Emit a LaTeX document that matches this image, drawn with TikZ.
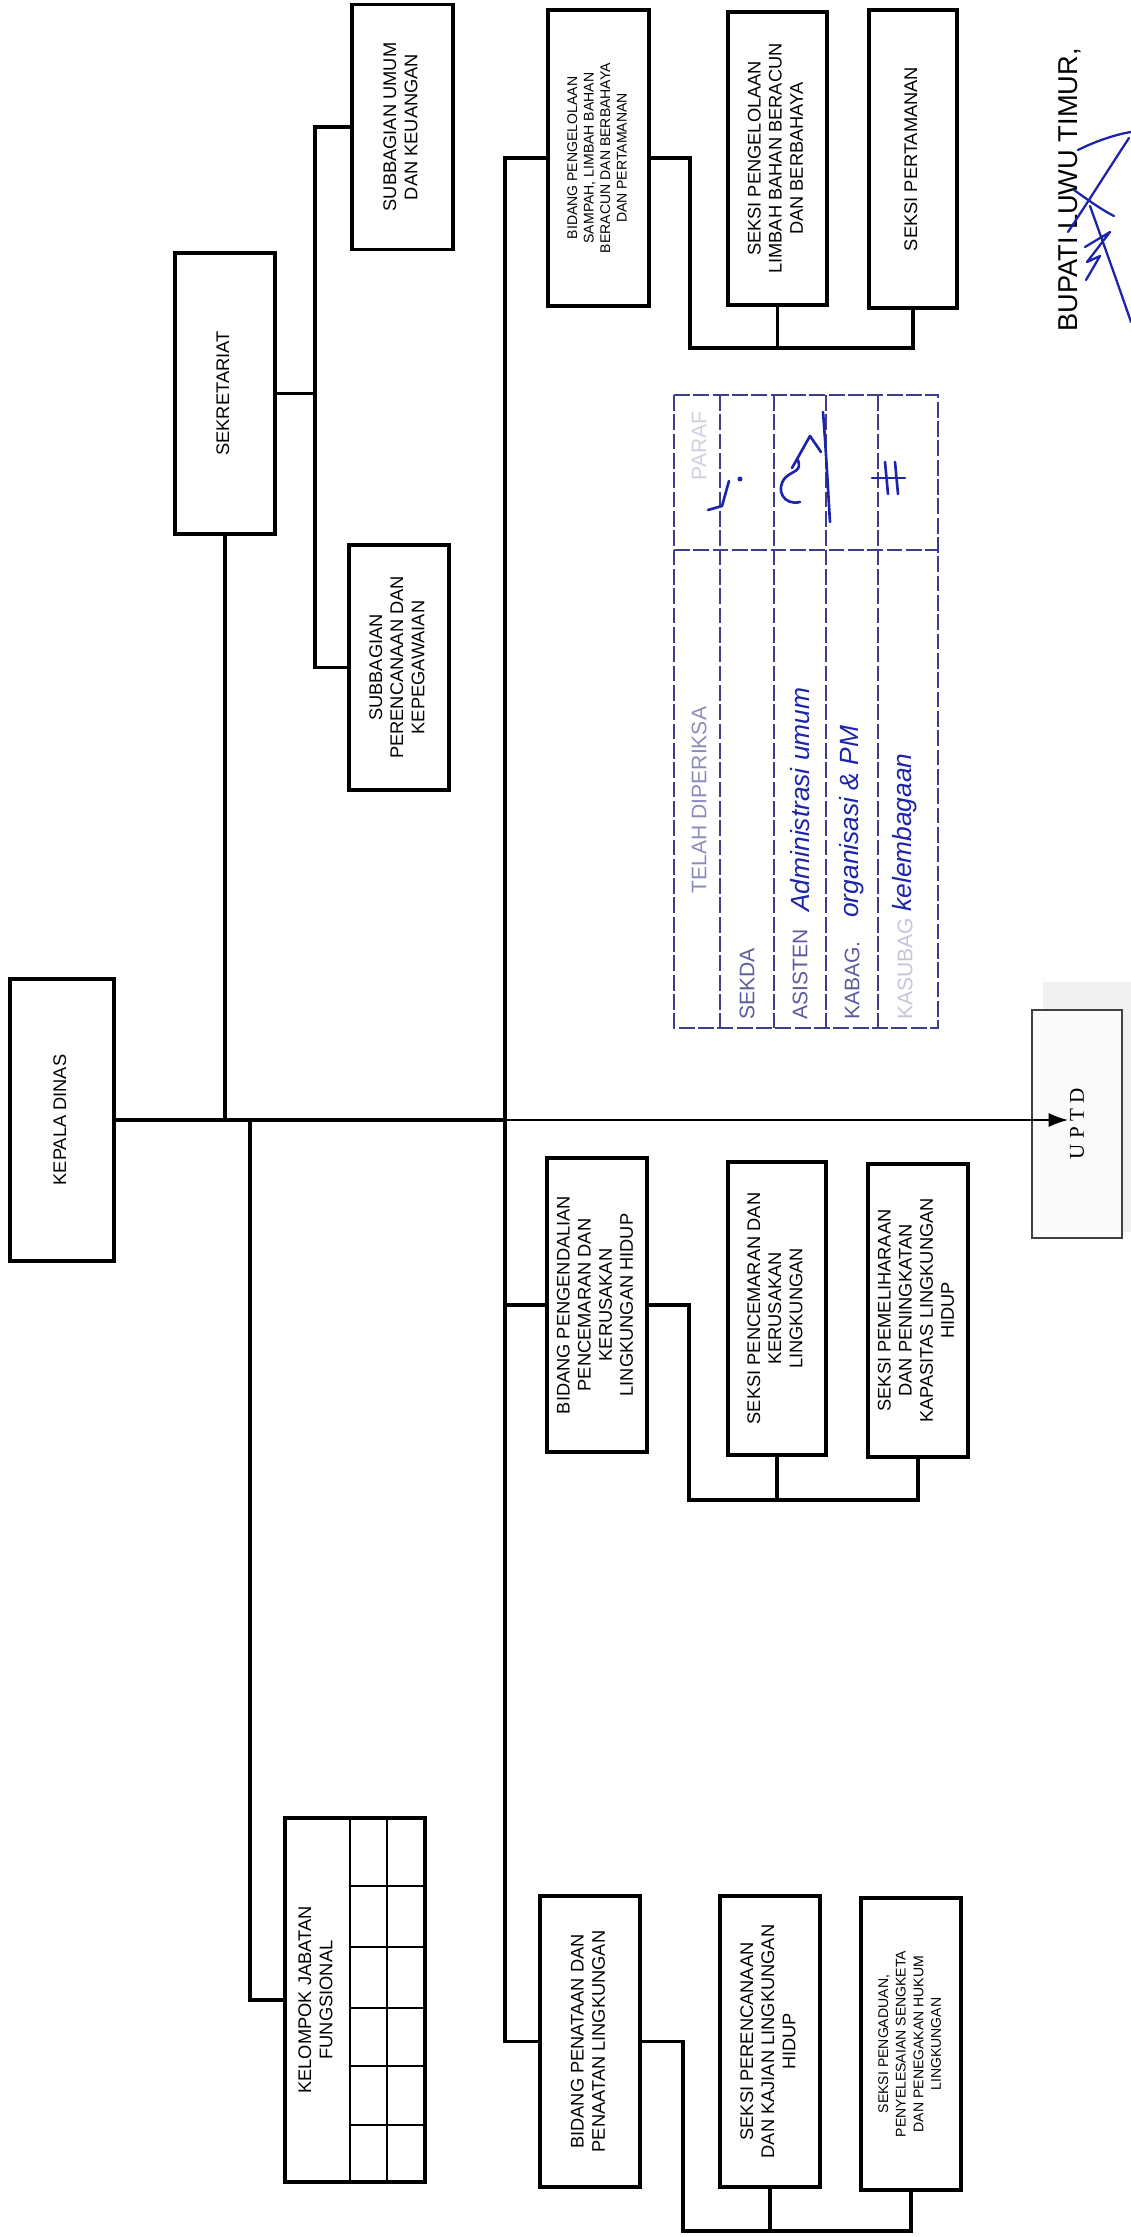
\documentclass[tikz,border=0pt]{standalone}
\usepackage{fontspec}
\setmainfont{Liberation Sans}
\newfontfamily\uptdserif{Liberation Serif}
\usetikzlibrary{arrows.meta}
\definecolor{stampblue}{RGB}{62,62,140}
\definecolor{inkblue}{RGB}{28,36,168}
\newcommand{\vlabel}[1]{\rotatebox{90}{\begin{tabular}{@{}c@{}}#1\end{tabular}}}
\tikzset{
    unit/.style={draw, line width=1.9pt, inner sep=0pt},
    link/.style={line width=1.9pt},
    txt/.style={font=\fontsize{10.4}{12}\selectfont},
    smalltxt/.style={font=\fontsize{8}{9.4}\selectfont},
    gridline/.style={line width=1.3pt},
    stamp/.style={draw=stampblue, line width=1.1pt, dash pattern=on 9pt off 2pt},
    stamplabel/.style={rotate=90, text=stampblue!85, font=\fontsize{12}{14}\selectfont, inner sep=0pt},
    hand/.style={rotate=90, text=inkblue, font=\fontsize{15}{17}\selectfont\itshape, inner sep=0pt},
    paraf/.style={draw=inkblue, line width=1.5pt, line cap=round, line join=round}
}

\begin{document}
\begin{tikzpicture}[x=0.02cm, y=-0.02cm]
    \useasboundingbox (0,0) rectangle (1131,2237);

    \node[unit, txt, minimum width=2.08cm, minimum height=5.64cm] (kepala) at (62, 1120) {\vlabel{KEPALA DINAS}};

    \node[unit, txt, minimum width=2cm, minimum height=5.62cm] (sekretariat) at (225, 393.5) {\vlabel{SEKRETARIAT}};
    \node[unit, txt, minimum width=2.02cm, minimum height=4.9cm] (subumum) at (402.5, 127) {\vlabel{SUBBAGIAN UMUM\\DAN KEUANGAN}};
    \node[unit, txt, minimum width=2cm, minimum height=4.9cm] (subperenc) at (399, 667.5) {\vlabel{SUBBAGIAN\\PERENCANAAN DAN\\KEPEGAWAIAN}};

    \node[unit, smalltxt, minimum width=2.02cm, minimum height=5.92cm] (bidsampah) at (598.5, 158) {\vlabel{BIDANG PENGELOLAAN\\SAMPAH, LIMBAH BAHAN\\BERACUN DAN BERBAHAYA\\DAN PERTAMANAN}};
    \node[unit, txt, minimum width=1.98cm, minimum height=5.86cm] (seksilimbah) at (777.5, 158.5) {\vlabel{SEKSI PENGELOLAAN\\LIMBAH BAHAN BERACUN\\DAN BERBAHAYA}};
    \node[unit, txt, minimum width=1.76cm, minimum height=5.96cm] (seksitaman) at (913, 159) {\vlabel{SEKSI PERTAMANAN}};

    \node[unit, txt, minimum width=2cm, minimum height=5.88cm] (bidcemar) at (597, 1305) {\vlabel{BIDANG PENGENDALIAN\\PENCEMARAN DAN\\KERUSAKAN\\LINGKUNGAN HIDUP}};
    \node[unit, txt, minimum width=1.96cm, minimum height=5.86cm] (seksicemar) at (777, 1308.5) {\vlabel{SEKSI PENCEMARAN DAN\\KERUSAKAN\\LINGKUNGAN}};
    \node[unit, txt, minimum width=2cm, minimum height=5.86cm] (seksipelihara) at (918, 1310.5) {\vlabel{SEKSI PEMELIHARAAN\\DAN PENINGKATAN\\KAPASITAS LINGKUNGAN\\HIDUP}};

    \node[unit, txt, minimum width=2cm, minimum height=5.82cm] (bidtata) at (590, 2041.5) {\vlabel{BIDANG PENATAAN DAN\\PENAATAN LINGKUNGAN}};
    \node[unit, txt, minimum width=2cm, minimum height=5.82cm] (seksikaji) at (770, 2041.5) {\vlabel{SEKSI PERENCANAAN\\DAN KAJIAN LINGKUNGAN\\HIDUP}};
    \node[unit, font=\fontsize{8}{10}\selectfont, minimum width=2cm, minimum height=5.84cm] (seksiadu) at (911, 2044) {\vlabel{SEKSI PENGADUAN,\\PENYELESAIAN SENGKETA\\DAN PENEGAKAN HUKUM\\LINGKUNGAN}};

    \node[unit, minimum width=2.8cm, minimum height=7.28cm] (jabfung) at (355, 2000) {};
    \node[txt] (jabfungtext) at (317.5, 2000) {\vlabel{KELOMPOK JABATAN\\FUNGSIONAL}};
    \foreach \gx in {350, 387}
        \draw[gridline] (\gx, 1818) -- (\gx, 2182);
    \foreach \gy in {1886, 1947, 2008, 2066, 2125}
        \draw[gridline] (350, \gy) -- (425, \gy);

    \fill[black!6] (1043, 982) rectangle (1131, 1232);
    \node[draw=black!75, fill=black!2, line width=1pt, minimum width=1.8cm, minimum height=4.56cm, font=\uptdserif\fontsize{12}{14}\selectfont] (uptd) at (1077, 1124) {\rotatebox{90}{U P T D}};

    \coordinate (hub) at (505, 1120);
    \coordinate (fungdrop) at (250, 1120);
    \coordinate (sekbus) at (315, 393.5);
    \coordinate (sampahbus) at (690, 348);
    \coordinate (cemarbus) at (689, 1500);
    \coordinate (tatabus) at (683, 2231);
    \coordinate (uptdtip) at (1068, 1120);

    \draw[link] (kepala.east) -- (hub);
    \draw[link] (bidsampah.west) -| (hub) |- (bidtata.west);
    \draw[link] (bidcemar.west) -- (bidcemar.west -| hub);
    \draw[link] (sekretariat.south) -- (sekretariat.south |- hub);
    \draw[link] (fungdrop) |- (jabfung.west);

    \draw[link] (sekretariat.east) -- (sekbus);
    \draw[link] (subumum.west) -| (sekbus) |- (subperenc.west);

    \draw[link] (bidsampah.east) -| (sampahbus) -| (seksitaman.south);
    \draw[link] (seksilimbah.south) -- (seksilimbah.south |- sampahbus);

    \draw[link] (bidcemar.east) -| (cemarbus) -| (seksipelihara.south);
    \draw[link] (seksicemar.south) -- (seksicemar.south |- cemarbus);

    \draw[link] (bidtata.east) -| (tatabus) -| (seksiadu.south);
    \draw[link] (seksikaji.south) -- (seksikaji.south |- tatabus);

    \draw[line width=0.9pt, -{Latex[length=11pt, width=8pt]}] (hub) -- (uptdtip);

    % stamp
    \draw[stamp] (674, 395) rectangle (938, 1028);
    \foreach \sx in {720, 774, 826, 878}
        \draw[stamp] (\sx, 395) -- (\sx, 1028);
    \draw[stamp] (674, 550) -- (938, 550);
    \node[stamplabel, text=stampblue!60] (telah) at (699, 800) {TELAH DIPERIKSA};
    \node[stamplabel, text=stampblue!25] (paraf) at (699, 446) {PARAF};
    \node[stamplabel, anchor=west] (sekda) at (747, 1020) {SEKDA};
    \node[stamplabel, anchor=west] (asisten) at (800, 1020) {ASISTEN};
    \node[stamplabel, anchor=west] (kabag) at (852, 1020) {KABAG.};
    \node[stamplabel, anchor=west, text=stampblue!30] (kasubag) at (905, 1020) {KASUBAG};
    \node[hand, anchor=west] (adm) at (800, 912) {Administrasi umum};
    \node[hand, anchor=west] (org) at (852, 918) {organisasi \& PM};
    \node[hand, anchor=west] (lembaga) at (905, 912) {kelembagaan};

    \draw[paraf] (708, 510) -- (722, 506) -- (729, 481);
    \fill[inkblue] (740, 479) circle (2.5);
    \draw[paraf] (800, 502) .. controls (784, 506) and (775, 490) .. (785, 478) .. controls (793, 470) and (802, 472) .. (798, 460);
    \draw[paraf] (792, 468) -- (810, 436) -- (821, 452);
    \draw[paraf] (823, 412) .. controls (826, 450) and (828, 490) .. (830, 522);
    \draw[paraf] (872, 478) -- (905, 478);
    \draw[paraf] (885, 462) -- (888, 494);
    \draw[paraf] (895, 462) -- (898, 494);

    \node[rotate=90, font=\fontsize{15.5}{18}\selectfont] (bupati) at (1070, 190) {BUPATI LUWU TIMUR,};
    \draw[paraf, line width=1.3pt] (1078, 150) .. controls (1098, 140) and (1118, 134) .. (1131, 132);
    \draw[paraf, line width=1.3pt] (1129, 138) .. controls (1108, 170) and (1086, 205) .. (1068, 232);
    \draw[paraf, line width=1.3pt] (1074, 190) .. controls (1088, 200) and (1102, 210) .. (1114, 216);
    \draw[paraf, line width=1.3pt] (1086, 280) -- (1100, 256) -- (1087, 262) -- (1110, 232) -- (1085, 247);
    \draw[paraf, line width=1.3pt] (1090, 206) .. controls (1104, 245) and (1120, 290) .. (1131, 322);

\end{tikzpicture}
\end{document}
